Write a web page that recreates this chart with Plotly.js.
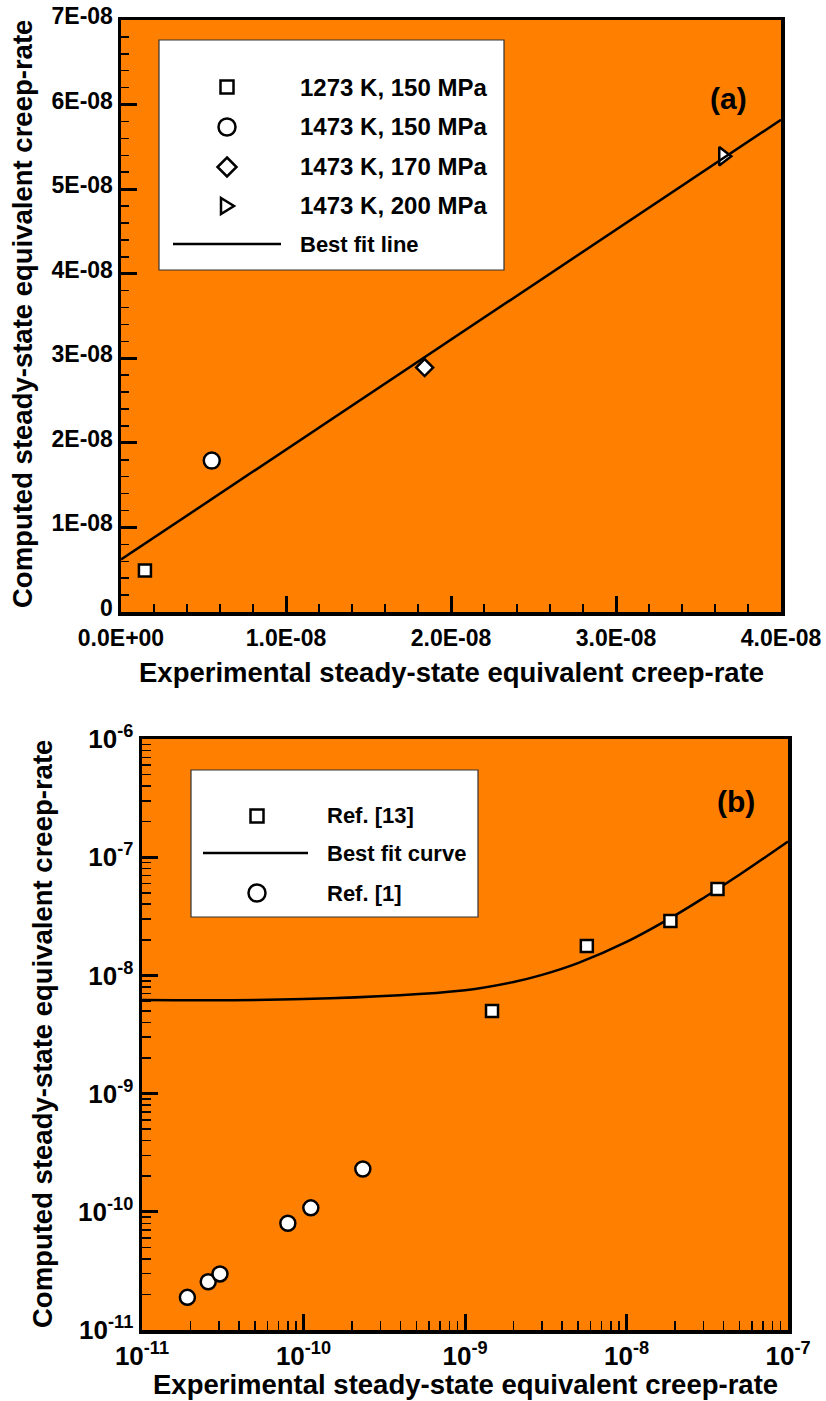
<!DOCTYPE html>
<html><head><meta charset="utf-8">
<script src="https://cdn.plot.ly/plotly-3.0.1.min.js"></script>
<style>
html,body{margin:0;padding:0;background:#fff}
</style>
</head><body><div id="chart" style="width:826px;height:1401px"></div>
<script>
// ---------- Panel (a) data ----------
const aSeriesNames = ['1273 K, 150 MPa','1473 K, 150 MPa','1473 K, 170 MPa','1473 K, 200 MPa'];
const aSymbols = ['square','circle','diamond','triangle-right'];
const aExpX  = [1.45e-9, 5.5e-9, 1.84e-8, 3.65e-8];
const aCompY = [4.9e-9, 1.79e-8, 2.89e-8, 5.39e-8];
const aFitName = 'Best fit line';
const aFitX = [0, 4.0e-8];
const aFitY = [6.2e-9, 5.82e-8];
const aXTickVals = [0, 1e-8, 2e-8, 3e-8, 4e-8];
const aXTickText = ['0.0E+00','1.0E-08','2.0E-08','3.0E-08','4.0E-08'];
const aYTickVals = [0, 1e-8, 2e-8, 3e-8, 4e-8, 5e-8, 6e-8, 7e-8];
const aYTickText = ['0','1E-08','2E-08','3E-08','4E-08','5E-08','6E-08','7E-08'];

// ---------- Panel (b) data ----------
const bRef13Name = 'Ref. [13]';
const bRef13X = [1.47e-9, 5.68e-9, 1.87e-8, 3.66e-8];
const bRef13Y = [5.0e-9, 1.77e-8, 2.88e-8, 5.38e-8];
const bRef1Name = 'Ref. [1]';
const bRef1X = [1.91e-11, 2.57e-11, 3.04e-11, 8.0e-11, 1.11e-10, 2.33e-10];
const bRef1Y = [1.89e-11, 2.56e-11, 2.98e-11, 8.0e-11, 1.08e-10, 2.30e-10];
const bFitName = 'Best fit curve';
const bFitX = [1e-11, 1e-10, 1e-9, 2e-9, 3e-9, 5e-9, 1e-8, 2e-8, 3e-8, 5e-8, 1e-7];
const bFitY = [6.2e-9, 6.3e-9, 7.5e-9, 8.8e-9, 1.01e-8, 1.27e-8, 1.92e-8, 3.22e-8, 4.52e-8, 7.1e-8, 1.36e-7];
const bXTickVals = [1e-11, 1e-10, 1e-9, 1e-8, 1e-7];
const bXTickText = ['10<sup>-11</sup>','10<sup>-10</sup>','10<sup>-9</sup>','10<sup>-8</sup>','10<sup>-7</sup>'];
const bYTickVals = [1e-11, 1e-10, 1e-9, 1e-8, 1e-7, 1e-6];
const bYTickText = ['10<sup>-11</sup>','10<sup>-10</sup>','10<sup>-9</sup>','10<sup>-8</sup>','10<sup>-7</sup>','10<sup>-6</sup>'];

const xTitle = 'Experimental steady-state equivalent creep-rate';
const yTitle = 'Computed steady-state equivalent creep-rate';

// ---------- helpers ----------
const W = 826, H = 1401;
const px = x => x / W;
const py = y => 1 - y / H;
const FONT = 'Liberation Sans, Arial, Helvetica, sans-serif';
const ORANGE = 'rgb(255,128,0)';

function axisCommon(extra, fsize) {
  return Object.assign({
    showgrid: false, zeroline: false,
    showline: true, linecolor: '#000', linewidth: 3.5, mirror: true,
    ticks: 'inside', ticklen: 16, tickwidth: 3, tickcolor: '#000',
    tickfont: {family: FONT, size: fsize, color: '#000', weight: 'bold'},
    tickmode: 'array', fixedrange: true
  }, extra);
}

const traces = [];
// Panel (a) markers
const aSizes = [12, 16, 13, 16];
for (let i = 0; i < aSeriesNames.length; i++) {
  traces.push({
    type: 'scatter', mode: 'markers', name: aSeriesNames[i],
    x: [aExpX[i]], y: [aCompY[i]], xaxis: 'x', yaxis: 'y',
    marker: {symbol: aSymbols[i], size: aSizes[i], color: '#fff', line: {color: '#000', width: 2.5}},
    showlegend: false, cliponaxis: false
  });
}
traces.push({
  type: 'scatter', mode: 'lines', name: aFitName, x: aFitX, y: aFitY,
  xaxis: 'x', yaxis: 'y', line: {color: '#000', width: 2.5}, showlegend: false
});
// Panel (b)
traces.push({
  type: 'scatter', mode: 'lines', name: bFitName, x: bFitX, y: bFitY,
  xaxis: 'x2', yaxis: 'y2', line: {color: '#000', width: 2.5, shape: 'spline', smoothing: 1}, showlegend: false
});
traces.push({
  type: 'scatter', mode: 'markers', name: bRef13Name, x: bRef13X, y: bRef13Y,
  xaxis: 'x2', yaxis: 'y2',
  marker: {symbol: 'square', size: 12, color: '#fff', line: {color: '#000', width: 2.5}}, showlegend: false
});
traces.push({
  type: 'scatter', mode: 'markers', name: bRef1Name, x: bRef1X, y: bRef1Y,
  xaxis: 'x2', yaxis: 'y2',
  marker: {symbol: 'circle', size: 15, color: '#fff', line: {color: '#000', width: 2.5}}, showlegend: false
});

// ---------- legends (drawn as boxes + symbols + text) ----------
const shapes = [];
const annotations = [];
function box(x0, y0, x1, y1) {
  shapes.push({type: 'rect', xref: 'paper', yref: 'paper', x0: px(x0), x1: px(x1), y0: py(y1), y1: py(y0),
    fillcolor: '#fff', line: {color: '#333', width: 1.2}, layer: 'above'});
}
function symSquare(cx, cy, h) {
  shapes.push({type: 'rect', xref: 'paper', yref: 'paper', x0: px(cx - h), x1: px(cx + h), y0: py(cy + h), y1: py(cy - h),
    fillcolor: '#fff', line: {color: '#000', width: 2.5}, layer: 'above'});
}
function symCircle(cx, cy, r) {
  shapes.push({type: 'circle', xref: 'paper', yref: 'paper', x0: px(cx - r), x1: px(cx + r), y0: py(cy + r), y1: py(cy - r),
    fillcolor: '#fff', line: {color: '#000', width: 2.5}, layer: 'above'});
}
function symPath(pts) {
  const d = pts.map((p, i) => (i ? 'L' : 'M') + px(p[0]).toFixed(5) + ',' + py(p[1]).toFixed(5)).join(' ') + ' Z';
  shapes.push({type: 'path', xref: 'paper', yref: 'paper', path: d, fillcolor: '#fff', line: {color: '#000', width: 2.5}, layer: 'above'});
}
function symLine(x0, x1, y) {
  shapes.push({type: 'line', xref: 'paper', yref: 'paper', x0: px(x0), x1: px(x1), y0: py(y), y1: py(y),
    line: {color: '#000', width: 2.5}, layer: 'above'});
}
function label(text, x, y, size, opts) {
  annotations.push(Object.assign({text: text, xref: 'paper', yref: 'paper', x: px(x), y: py(y),
    xanchor: 'left', yanchor: 'middle', showarrow: false,
    font: {family: FONT, size: size, color: '#000', weight: 'bold'}}, opts || {}));
}

// Legend (a)
box(159, 40, 504, 270);
const aRowsY = [87, 127, 167, 206, 244];
symSquare(227, aRowsY[0], 6.5);
symCircle(227, aRowsY[1], 8.5);
symPath([[227, aRowsY[2] - 9.5], [236.5, aRowsY[2]], [227, aRowsY[2] + 9.5], [217.5, aRowsY[2]]]);
symPath([[221, aRowsY[3] - 8], [234, aRowsY[3]], [221, aRowsY[3] + 8]]);
symLine(173, 281, aRowsY[4]);
aSeriesNames.forEach((n, i) => label(n, 298, aRowsY[i], 24));
label(aFitName, 298, aRowsY[4], 22);

// Legend (b)
box(191, 770, 478, 917);
const bRowsY = [816, 853, 893];
symSquare(257, bRowsY[0], 6.5);
symLine(203, 308, bRowsY[1]);
symCircle(257, bRowsY[2], 8.5);
label(bRef13Name, 325, bRowsY[0], 22);
label(bFitName, 325, bRowsY[1], 22);
label(bRef1Name, 325, bRowsY[2], 22);

// Panel letters
label('(a)', 728, 99, 30, {xanchor: 'center'});
label('(b)', 736, 801, 30, {xanchor: 'center'});

// Axis titles
label(xTitle, 451, 672, 27.5, {xanchor: 'center'});
label(yTitle, 22, 314, 27.5, {xanchor: 'center', textangle: -90});
label(xTitle, 465, 1384, 27.5, {xanchor: 'center'});
label(yTitle, 42, 1034, 27.5, {xanchor: 'center', textangle: -90});

const layout = {
  width: W, height: H,
  margin: {l: 0, r: 0, t: 0, b: 0},
  paper_bgcolor: '#fff', plot_bgcolor: ORANGE,
  showlegend: false,
  xaxis: axisCommon({domain: [px(121), px(781)], anchor: 'y', range: [0, 4e-8],
    tickvals: aXTickVals, ticktext: aXTickText, ticklabelstandoff: 3,
    minor: {ticks: 'inside', ticklen: 8, tickwidth: 1.5, tickcolor: '#000', tick0: 0, dtick: 2e-9}}, 23),
  yaxis: axisCommon({domain: [py(612), py(20)], anchor: 'x', range: [0, 7e-8],
    tickvals: aYTickVals, ticktext: aYTickText, ticklabelshift: -4,
    minor: {ticks: 'inside', ticklen: 8, tickwidth: 1.5, tickcolor: '#000', tick0: 0, dtick: 2e-9}}, 23),
  xaxis2: axisCommon({domain: [px(142), px(788)], anchor: 'y2', type: 'log', range: [-11, -7],
    tickvals: bXTickVals, ticktext: bXTickText,
    minor: {ticks: 'inside', ticklen: 9, tickwidth: 1.5, tickcolor: '#000', dtick: 'D1'}}, 26),
  yaxis2: axisCommon({domain: [py(1330), py(739)], anchor: 'x2', type: 'log', range: [-11, -6],
    tickvals: bYTickVals, ticktext: bYTickText,
    minor: {ticks: 'inside', ticklen: 9, tickwidth: 1.5, tickcolor: '#000', dtick: 'D1'}}, 26),
  shapes: shapes,
  annotations: annotations
};

Plotly.newPlot('chart', traces, layout, {displayModeBar: false, staticPlot: true});
</script>
</body></html>
